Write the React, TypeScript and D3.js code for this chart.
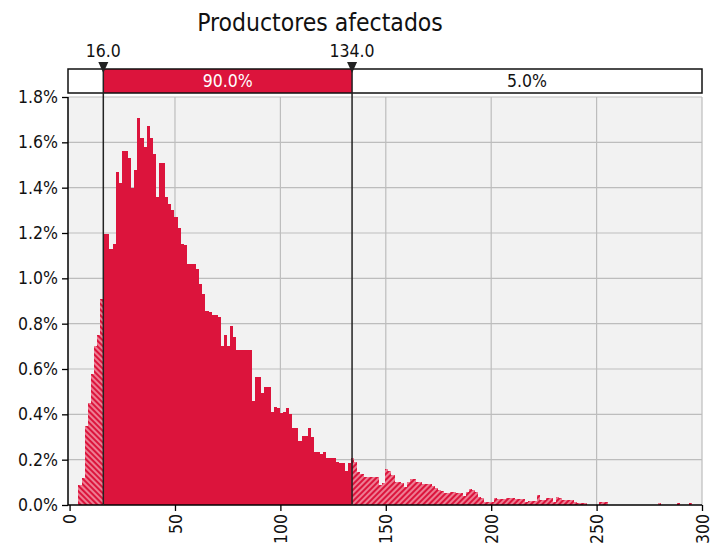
import React, { useEffect, useRef } from 'react';
import * as d3 from 'd3';

// histogram bins (value = % of iterations in the bin)
const binStart = 4.2;
const binWidth = 1.47;
const binValues = [
  0.09, 0.12, 0.35, 0.45, 0.58, 0.70, 0.75, 0.91,
  1.195, 1.195, 1.13, 1.15, 1.47, 1.42, 1.56, 1.56, 1.53, 1.40, 1.48, 1.706,
  1.62, 1.58, 1.67, 1.62, 1.55, 1.36, 1.51, 1.51, 1.36, 1.33,
  1.30, 1.27, 1.22, 1.15, 1.147, 1.065, 1.062, 1.062, 1.04, 0.975,
  0.93, 0.856, 0.85, 0.84, 0.84, 0.83, 0.70, 0.75, 0.70, 0.79,
  0.74, 0.684, 0.684, 0.684, 0.684, 0.684, 0.46, 0.566, 0.566, 0.493,
  0.522, 0.522, 0.41, 0.434, 0.43, 0.407, 0.41, 0.427, 0.40, 0.338,
  0.338, 0.284, 0.304, 0.304, 0.338, 0.30, 0.235, 0.235, 0.225, 0.235,
  0.206, 0.206, 0.206, 0.19, 0.185, 0.187, 0.15, 0.187, 0.206, 0.19,
  0.147, 0.135, 0.122, 0.122, 0.122, 0.123, 0.123, 0.09, 0.095, 0.157,
  0.15, 0.132, 0.103, 0.10, 0.095, 0.081, 0.10, 0.115, 0.115, 0.103,
  0.10, 0.091, 0.091, 0.091, 0.085, 0.076, 0.066, 0.062, 0.054, 0.054,
  0.058, 0.058, 0.054, 0.054, 0.04, 0.059, 0.069, 0.065, 0.059, 0.037,
  0.03, 0.015, 0.015, 0.015, 0.032, 0.028, 0.025, 0.025, 0.03, 0.033,
  0.033, 0.025, 0.025, 0.025, 0.015, 0.018, 0.018, 0.018, 0.044, 0.02,
  0.02, 0.03, 0.03, 0.013, 0.037, 0.03, 0.02, 0.02, 0.02, 0.02,
  0.012, 0.01, 0.01, 0.01, 0, 0, 0, 0, 0.012, 0.012,
  0.012, 0, 0, 0, 0, 0, 0, 0, 0, 0,
  0, 0, 0, 0, 0, 0, 0, 0.01, 0, 0,
  0, 0, 0, 0.01, 0, 0, 0, 0.01, 0, 0,
];

const title = 'Productores afectados';
const markers = [16.0, 134.0];
const bandLabels = ['5.0%', '90.0%', '5.0%'];
const xTicks = [0, 50, 100, 150, 200, 250, 300];
const yTicks = [0, 0.2, 0.4, 0.6, 0.8, 1.0, 1.2, 1.4, 1.6, 1.8];

const RED = '#dc143c';
const FONT = '"DejaVu Sans Condensed", "DejaVu Sans", sans-serif';
const FS = 17.5;

const App = () => {
  const ref = useRef<SVGSVGElement | null>(null);

  useEffect(() => {
    document.body.style.margin = '0';
    const svg = d3.select(ref.current);
    svg.selectAll('*').remove();

    const left = 68, right = 702, top = 97, bottom = 505;
    const x = d3.scaleLinear().domain([-0.75, 300]).range([left, right]);
    const y = d3.scaleLinear().domain([0, 1.8]).range([bottom, top]);

    const defs = svg.append('defs');
    const hatch = (id: string, angle: number) => {
      const p = defs.append('pattern')
        .attr('id', id)
        .attr('patternUnits', 'userSpaceOnUse')
        .attr('width', 4)
        .attr('height', 8)
        .attr('patternTransform', `rotate(${angle})`);
      p.append('rect').attr('width', 4).attr('height', 8).attr('fill', RED);
      p.append('line')
        .attr('x1', 2).attr('x2', 2).attr('y1', 0).attr('y2', 8)
        .attr('stroke', '#f5a9b8').attr('stroke-width', 1.4);
    };
    hatch('hatchL', -45);
    hatch('hatchR', 45);

    const [lo, hi] = markers;
    defs.append('clipPath').attr('id', 'clipL')
      .append('rect').attr('x', left).attr('y', top).attr('width', x(lo) - left).attr('height', bottom - top);
    defs.append('clipPath').attr('id', 'clipM')
      .append('rect').attr('x', x(lo)).attr('y', top).attr('width', x(hi) - x(lo)).attr('height', bottom - top);
    defs.append('clipPath').attr('id', 'clipR')
      .append('rect').attr('x', x(hi)).attr('y', top).attr('width', right - x(hi)).attr('height', bottom - top);

    // plot background + grid
    svg.append('rect')
      .attr('x', left).attr('y', top).attr('width', right - left).attr('height', bottom - top)
      .attr('fill', '#f2f2f2');

    svg.append('g').selectAll('line.h')
      .data(yTicks.slice(1))
      .enter().append('line')
      .attr('x1', left).attr('x2', right)
      .attr('y1', d => y(d)).attr('y2', d => y(d))
      .attr('stroke', '#bdbdbd').attr('stroke-width', 1.2);

    svg.append('g').selectAll('line.v')
      .data(xTicks.slice(1))
      .enter().append('line')
      .attr('x1', d => x(d)).attr('x2', d => x(d))
      .attr('y1', top).attr('y2', bottom)
      .attr('stroke', '#bdbdbd').attr('stroke-width', 1.2);

    // bars, drawn three times with different fills and clips
    const bins = binValues.map((v, i) => ({ x0: binStart + i * binWidth, x1: binStart + (i + 1) * binWidth, v }))
      .filter(b => b.v > 0);

    const drawBars = (clip: string, fill: string) => {
      svg.append('g')
        .attr('clip-path', `url(#${clip})`)
        .selectAll('rect')
        .data(bins)
        .enter().append('rect')
        .attr('x', d => x(d.x0))
        .attr('width', d => x(d.x1) - x(d.x0))
        .attr('y', d => y(d.v))
        .attr('height', d => y(0) - y(d.v))
        .attr('shape-rendering', 'crispEdges')
        .attr('fill', fill);
    };
    drawBars('clipL', 'url(#hatchL)');
    drawBars('clipM', RED);
    drawBars('clipR', 'url(#hatchR)');

    // axes
    const yAxis = svg.append('g')
      .attr('transform', `translate(${left},0)`)
      .call(d3.axisLeft(y).tickValues(yTicks).tickFormat(d => `${(+d).toFixed(1)}%`).tickSize(6).tickPadding(4));
    yAxis.select('.domain').attr('stroke', '#000').attr('stroke-width', 1.5).attr('d', `M0,${top}V${bottom}`);
    yAxis.selectAll('.tick line').attr('stroke', '#000').attr('stroke-width', 1.3);
    yAxis.selectAll('text').attr('font-family', FONT).attr('font-size', FS).attr('fill', '#111');

    const xAxis = svg.append('g')
      .attr('transform', `translate(0,${bottom})`)
      .call(d3.axisBottom(x).tickValues(xTicks).tickFormat(d3.format('d')).tickSize(6));
    xAxis.select('.domain').attr('stroke', '#000').attr('stroke-width', 1.5).attr('d', `M${left},0H${right}`);
    xAxis.selectAll('.tick line').attr('stroke', '#000').attr('stroke-width', 1.3);
    xAxis.selectAll('text')
      .attr('font-family', FONT).attr('font-size', FS).attr('fill', '#111')
      .attr('transform', 'rotate(-90)')
      .attr('text-anchor', 'end')
      .attr('x', -9).attr('y', 0).attr('dy', '0.35em');

    // percentile band
    const bandTop = 69, bandH = 24;
    svg.append('rect')
      .attr('x', left).attr('y', bandTop).attr('width', right - left).attr('height', bandH)
      .attr('fill', '#fff');
    svg.append('rect')
      .attr('x', x(lo)).attr('y', bandTop).attr('width', x(hi) - x(lo)).attr('height', bandH)
      .attr('fill', RED);
    svg.append('rect')
      .attr('x', left).attr('y', bandTop).attr('width', right - left).attr('height', bandH)
      .attr('fill', 'none').attr('stroke', '#111').attr('stroke-width', 1.5);

    svg.append('text')
      .attr('x', (x(lo) + x(hi)) / 2).attr('y', bandTop + bandH / 2).attr('dy', '0.36em')
      .attr('text-anchor', 'middle').attr('font-family', FONT).attr('font-size', FS).attr('fill', '#fff')
      .text(bandLabels[1]);
    svg.append('text')
      .attr('x', (x(hi) + right) / 2).attr('y', bandTop + bandH / 2).attr('dy', '0.36em')
      .attr('text-anchor', 'middle').attr('font-family', FONT).attr('font-size', FS).attr('fill', '#111')
      .text(bandLabels[2]);

    // marker lines, triangles, values
    markers.forEach(m => {
      const mx = x(m);
      svg.append('line')
        .attr('x1', mx).attr('x2', mx).attr('y1', 62).attr('y2', bottom)
        .attr('stroke', '#222').attr('stroke-width', 1.5);
      svg.append('path')
        .attr('d', `M${mx - 5},62H${mx + 5}L${mx},73Z`)
        .attr('fill', '#222');
      svg.append('text')
        .attr('x', mx).attr('y', 57)
        .attr('text-anchor', 'middle').attr('font-family', FONT).attr('font-size', FS).attr('fill', '#111')
        .text(m.toFixed(1));
    });

    svg.append('text')
      .attr('x', 320).attr('y', 31)
      .attr('text-anchor', 'middle').attr('font-family', FONT).attr('font-size', 24.5).attr('fill', '#111')
      .text(title);
  }, []);

  return <svg ref={ref} width={712} height={551} style={{ display: 'block', background: '#fff' }} />;
};

export default App;
